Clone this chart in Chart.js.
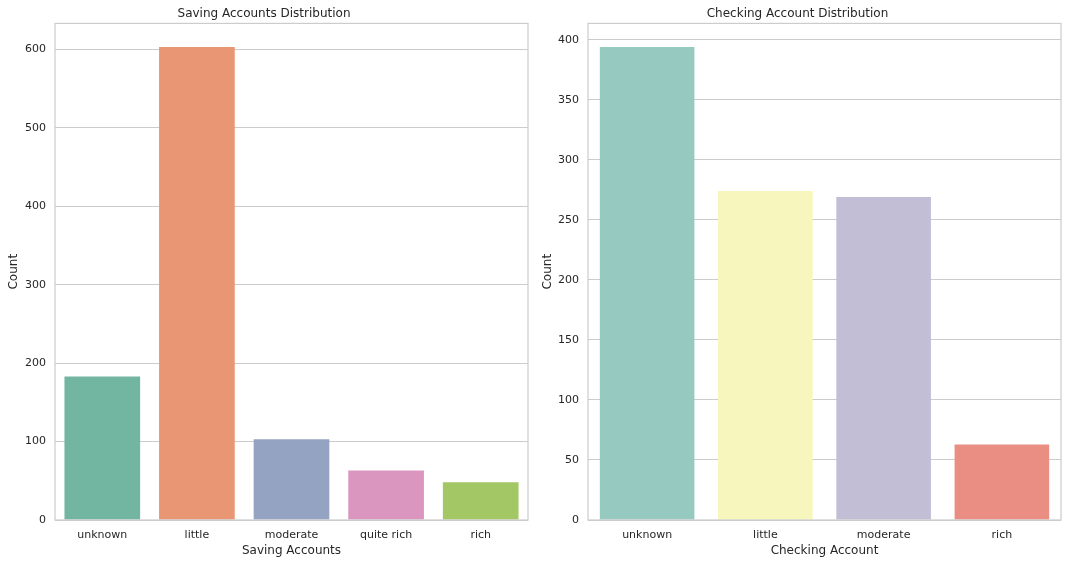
<!DOCTYPE html>
<html>
<head>
<meta charset="utf-8">
<script src="https://cdn.jsdelivr.net/npm/chart.js@4.4.0/dist/chart.umd.min.js"></script>
<style>
  html, body { margin: 0; padding: 0; background: #fff; }
  #wrap { position: relative; width: 1068px; height: 564px; }
  .panel { position: absolute; top: 0; width: 534px; height: 564px; }
</style>
</head>
<body>
<div id="wrap">
  <div class="panel" style="left:0"><canvas id="ahorro"></canvas></div>
  <div class="panel" style="left:534px"><canvas id="cuenta"></canvas></div>
</div>
<script>
// datos
const savingLabels = ["unknown", "little", "moderate", "quite rich", "rich"];
const savingCounts = [183, 603, 103, 63, 48];
const savingColors = ["#72b6a1", "#e99675", "#95a3c3", "#db96c0", "#a2c764"];

const checkingLabels = ["unknown", "little", "moderate", "rich"];
const checkingCounts = [394, 274, 269, 63];
const checkingColors = ["#96cac1", "#f6f6bd", "#c1bed6", "#ea8e83"];

const savingTicks = [0, 100, 200, 300, 400, 500, 600];
const checkingTicks = [0, 50, 100, 150, 200, 250, 300, 350, 400];

Chart.defaults.font.family = "'DejaVu Sans', sans-serif";
Chart.defaults.color = "#262626";

// marco gris alrededor del area del grafico
const marco = {
  id: 'marco',
  afterDraw(chart) {
    const a = chart.chartArea;
    const c = chart.ctx;
    c.save();
    c.strokeStyle = '#cccccc';
    c.lineWidth = 1.2;
    c.strokeRect(a.left, a.top, a.right - a.left, a.bottom - a.top);
    c.restore();
  }
};

function crearGrafica(id, titulo, ejeX, etiquetas, valores, colores, ticks, anchoY, padDer) {
  const ctx = document.getElementById(id).getContext('2d');
  return new Chart(ctx, {
    type: 'bar',
    data: {
      labels: etiquetas,
      datasets: [{
        data: valores,
        backgroundColor: colores,
        barPercentage: 0.8,
        categoryPercentage: 1.0
      }]
    },
    plugins: [marco],
    options: {
      responsive: true,
      maintainAspectRatio: false,
      animation: false,
      layout: { padding: { right: padDer, left: 0, top: 0, bottom: 0 } },
      plugins: {
        legend: { display: false },
        tooltip: { enabled: false },
        title: {
          display: true,
          text: titulo,
          color: '#262626',
          font: { size: 12, weight: 'normal' },
          padding: { top: 7, bottom: 2 }
        }
      },
      scales: {
        x: {
          offset: true,
          grid: { display: false, drawTicks: false },
          border: { display: false },
          ticks: { font: { size: 11 }, padding: 9, color: '#262626' },
          title: { display: true, text: ejeX, font: { size: 12 }, color: '#262626', padding: { top: 0, bottom: 6 } },
          afterFit(s) { s.height = 44; }
        },
        y: {
          min: 0,
          max: Math.max(...valores) * 1.05,
          grid: { color: '#cccccc', lineWidth: 1, drawTicks: false },
          border: { display: false },
          afterBuildTicks(s) { s.ticks = ticks.map(v => ({ value: v })); },
          ticks: { font: { size: 11 }, padding: 9, color: '#262626' },
          title: { display: true, text: 'Count', font: { size: 12 }, color: '#262626', padding: { top: 7, bottom: 0 } },
          afterFit(s) { s.width = anchoY; }
        }
      }
    }
  });
}

crearGrafica('ahorro', 'Saving Accounts Distribution', 'Saving Accounts',
  savingLabels, savingCounts, savingColors, savingTicks, 55, 6);
crearGrafica('cuenta', 'Checking Account Distribution', 'Checking Account',
  checkingLabels, checkingCounts, checkingColors, checkingTicks, 54, 7);
</script>
</body>
</html>
